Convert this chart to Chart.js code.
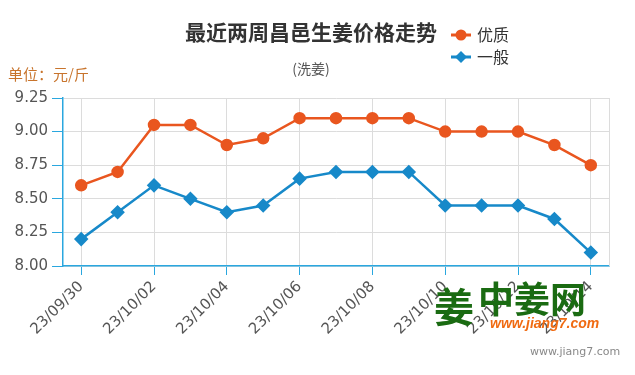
<!DOCTYPE html>
<html>
<head>
<meta charset="utf-8">
<script src="https://cdn.jsdelivr.net/npm/chart.js@4/dist/chart.umd.min.js"></script>
<style>
  html, body { margin: 0; padding: 0; background: #fff; }
  #wrap { width: 635px; height: 375px; position: relative; }
</style>
</head>
<body>
<div id="wrap"><canvas id="priceChart"></canvas></div>
<script>
// dates shown on the x axis (every day, only every other one gets a label)
const dates = ['23/09/30', '23/10/01', '23/10/02', '23/10/03', '23/10/04', '23/10/05', '23/10/06',
  '23/10/07', '23/10/08', '23/10/09', '23/10/10', '23/10/11', '23/10/12', '23/10/13', '23/10/14'];
// prices in yuan per jin
const premium = [8.6, 8.7, 9.05, 9.05, 8.9, 8.95, 9.1, 9.1, 9.1, 9.1, 9.0, 9.0, 9.0, 8.9, 8.75];
const normal = [8.2, 8.4, 8.6, 8.5, 8.4, 8.45, 8.65, 8.7, 8.7, 8.7, 8.45, 8.45, 8.45, 8.35, 8.1];
const seriesNames = ['优质', '一般'];

const orange = '#e9561f';
const blue = '#1789c9';
const axisBlue = '#2aa7df';
const gridGray = '#dcdcdc';

// titles, legend, unit label and watermark
const decorations = {
  id: 'decorations',
  afterDraw(chart) {
    const ctx = chart.ctx;
    const area = chart.chartArea;
    ctx.save();

    // right border line of the plot
    ctx.strokeStyle = gridGray;
    ctx.lineWidth = 1;
    ctx.beginPath();
    ctx.moveTo(area.right + 0.5, area.top);
    ctx.lineTo(area.right + 0.5, area.bottom);
    ctx.stroke();

    ctx.textBaseline = 'middle';
    ctx.textAlign = 'center';
    ctx.fillStyle = '#333';
    ctx.font = 'bold 21px "Noto Sans CJK SC"';
    ctx.fillText('最近两周昌邑生姜价格走势', 311, 32);
    ctx.fillStyle = '#555';
    ctx.font = '14px "Noto Sans CJK SC"';
    ctx.fillText('(洗姜)', 311, 69);

    ctx.textAlign = 'left';
    ctx.fillStyle = '#c8742c';
    ctx.font = '15px "Noto Sans CJK SC"';
    ctx.fillText('单位：元/斤', 8, 74);

    // legend
    const items = [{ y: 35, color: orange, shape: 'circle' }, { y: 57, color: blue, shape: 'diamond' }];
    items.forEach((it, i) => {
      ctx.strokeStyle = it.color;
      ctx.fillStyle = it.color;
      ctx.lineWidth = 3;
      ctx.beginPath();
      ctx.moveTo(451, it.y);
      ctx.lineTo(471, it.y);
      ctx.stroke();
      ctx.beginPath();
      if (it.shape === 'circle') {
        ctx.arc(461, it.y, 5.5, 0, Math.PI * 2);
      } else {
        ctx.moveTo(461, it.y - 6);
        ctx.lineTo(467, it.y);
        ctx.lineTo(461, it.y + 6);
        ctx.lineTo(455, it.y);
        ctx.closePath();
      }
      ctx.fill();
      ctx.fillStyle = '#333';
      ctx.font = '16px "Noto Sans CJK SC"';
      ctx.fillText(seriesNames[i], 477, it.y);
    });

    // watermark
    ctx.fillStyle = '#1a6b12';
    ctx.font = 'bold 40px "Noto Sans CJK SC"';
    ctx.fillText('姜', 434, 307);
    ctx.font = 'bold 36px "Noto Sans CJK SC"';
    ctx.fillText('中姜网', 478, 299);
    ctx.fillStyle = '#f06b12';
    ctx.font = 'italic bold 14px "Liberation Sans"';
    ctx.fillText('www.jiang7.com', 490, 324);
    ctx.fillStyle = '#888';
    ctx.font = '11px "DejaVu Sans"';
    ctx.fillText('www.jiang7.com', 530, 352);
    ctx.restore();
  }
};

new Chart(document.getElementById('priceChart'), {
  type: 'line',
  data: {
    labels: dates,
    datasets: [
      {
        label: seriesNames[0], data: premium, borderColor: orange, backgroundColor: orange,
        borderWidth: 2.5, pointStyle: 'circle', pointRadius: 5, pointHoverRadius: 5, tension: 0
      },
      {
        label: seriesNames[1], data: normal, borderColor: blue, backgroundColor: blue,
        borderWidth: 2.5, pointStyle: 'rectRot', pointRadius: 5.5, pointHoverRadius: 5.5, tension: 0
      }
    ]
  },
  options: {
    responsive: true,
    maintainAspectRatio: false,
    animation: false,
    layout: { padding: { top: 98, right: 26, left: 0, bottom: 0 } },
    plugins: { legend: { display: false }, title: { display: false }, tooltip: { enabled: false } },
    scales: {
      x: {
        offset: true,
        grid: {
          offset: false,
          drawOnChartArea: true,
          color: c => (c.index % 2 === 0 ? gridGray : 'transparent'),
          tickColor: c => (c.index % 2 === 0 ? axisBlue : 'transparent'),
          tickLength: 9
        },
        border: { color: axisBlue, width: 1.5 },
        ticks: {
          autoSkip: false,
          maxRotation: 45,
          minRotation: 45,
          color: '#555',
          font: { family: 'DejaVu Sans', size: 15 },
          callback: (v, i) => (i % 2 === 0 ? dates[i] : '')
        },
        afterFit: s => { s.height = 375 - 266; }
      },
      y: {
        min: 8,
        max: 9.25,
        grid: { color: gridGray, tickColor: axisBlue, tickLength: 11 },
        border: { color: axisBlue, width: 1.5 },
        ticks: {
          stepSize: 0.25,
          color: '#555',
          padding: 4,
          font: { family: 'DejaVu Sans', size: 15 },
          callback: v => v.toFixed(2)
        },
        afterFit: s => { s.width = 63; }
      }
    }
  },
  plugins: [decorations]
});
</script>
</body>
</html>
